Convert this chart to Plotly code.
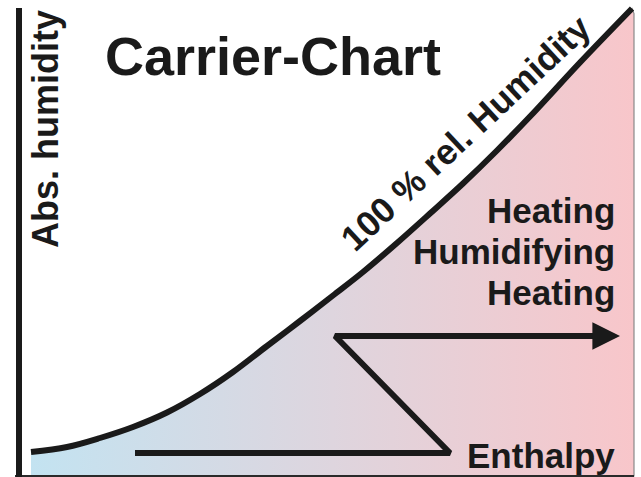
import plotly.graph_objects as go

# ---- data (diagram units: x = temperature-like axis, y = abs. humidity axis) ----
sat_temp = [31, 67, 100, 133, 167, 200, 233, 267, 300, 333, 363, 397, 430, 463, 497, 530, 580, 632]
sat_hum = [25, 30, 39, 50, 64.5, 83, 105, 131, 156, 181.5, 205, 234, 263.5, 293.5, 326.5, 360.5, 414.5, 468.5]

process_temp = [135, 450, 335, 598]
process_hum = [24, 24, 141, 141]
arrow_tip_temp = 620

axis_temp = 19
axis_top = 469
right_edge = 634
bottom = 1

title = "Carrier-Chart"
y_label = "Abs. humidity"
curve_label = "100 % rel. Humidity"
process_labels = ["Heating", "Humidifying", "Heating"]
x_label = "Enthalpy"

INK = "#1a1a1a"
FONT = "Liberation Sans, Arial, Helvetica, sans-serif"

fig = go.Figure()

# gradient region under saturation curve
fig.add_trace(go.Scatter(
    x=sat_temp + [right_edge, right_edge, sat_temp[0]],
    y=sat_hum + [sat_hum[-1] - 5, bottom, bottom],
    mode="lines", fill="toself",
    fillgradient=dict(type="horizontal",
                      colorscale=[[0, "#c3e3f1"], [0.5, "#ded5de"], [1, "#f8c6ca"]]),
    line=dict(color="#8a8a8a", width=1.2),
    hoverinfo="skip", showlegend=False))

# bottom line
fig.add_trace(go.Scatter(x=[axis_temp - 4, right_edge], y=[bottom, bottom], mode="lines",
                         line=dict(color="#2a2a2a", width=2), hoverinfo="skip", showlegend=False))

# vertical axis
fig.add_trace(go.Scatter(x=[axis_temp, axis_temp], y=[0, axis_top], mode="lines",
                         line=dict(color=INK, width=6), hoverinfo="skip", showlegend=False))

# saturation curve
fig.add_trace(go.Scatter(x=sat_temp, y=sat_hum, mode="lines",
                         line=dict(color=INK, width=6, shape="spline", smoothing=1.0),
                         hoverinfo="skip", showlegend=False))

# process path
fig.add_trace(go.Scatter(x=process_temp, y=process_hum, mode="lines",
                         line=dict(color=INK, width=6), hoverinfo="skip", showlegend=False))

annotations = [
    dict(x=arrow_tip_temp, y=process_hum[-1], ax=process_temp[-1] - 20, ay=process_hum[-1],
         xref="x", yref="y", axref="x", ayref="y", text="", showarrow=True,
         arrowhead=2, arrowsize=0.92, arrowwidth=6, arrowcolor=INK),
    dict(x=273, y=477 - 56, text=title, textangle=0,
         font=dict(size=54, weight="bold")),
    dict(x=45, y=477 - 129, text=y_label, textangle=-90,
         font=dict(size=36, weight="bold")),
    dict(x=466, y=477 - 133, text=curve_label, textangle=-43,
         font=dict(size=35.5, weight="bold")),
    dict(x=617, y=477 - 455, text=x_label, xanchor="right",
         font=dict(size=35, weight="bold")),
]
for i, lab in enumerate(process_labels):
    annotations.append(dict(x=617, y=477 - (210 + 41 * i), text=lab, xanchor="right",
                            font=dict(size=35, weight="bold")))
for a in annotations:
    a.setdefault("xref", "x")
    a.setdefault("yref", "y")
    a.setdefault("showarrow", False)
    if "font" in a:
        a["font"].update(family=FONT, color=INK)

fig.update_layout(
    width=641, height=477,
    margin=dict(l=0, r=0, t=0, b=0),
    paper_bgcolor="white", plot_bgcolor="white",
    xaxis=dict(range=[0, 641], visible=False, fixedrange=True),
    yaxis=dict(range=[0, 477], visible=False, fixedrange=True),
    annotations=annotations,
    showlegend=False,
)

fig.write_html("out.html", config={"displayModeBar": False},
               post_script="document.body.style.margin='0';document.body.style.overflow='hidden';")
